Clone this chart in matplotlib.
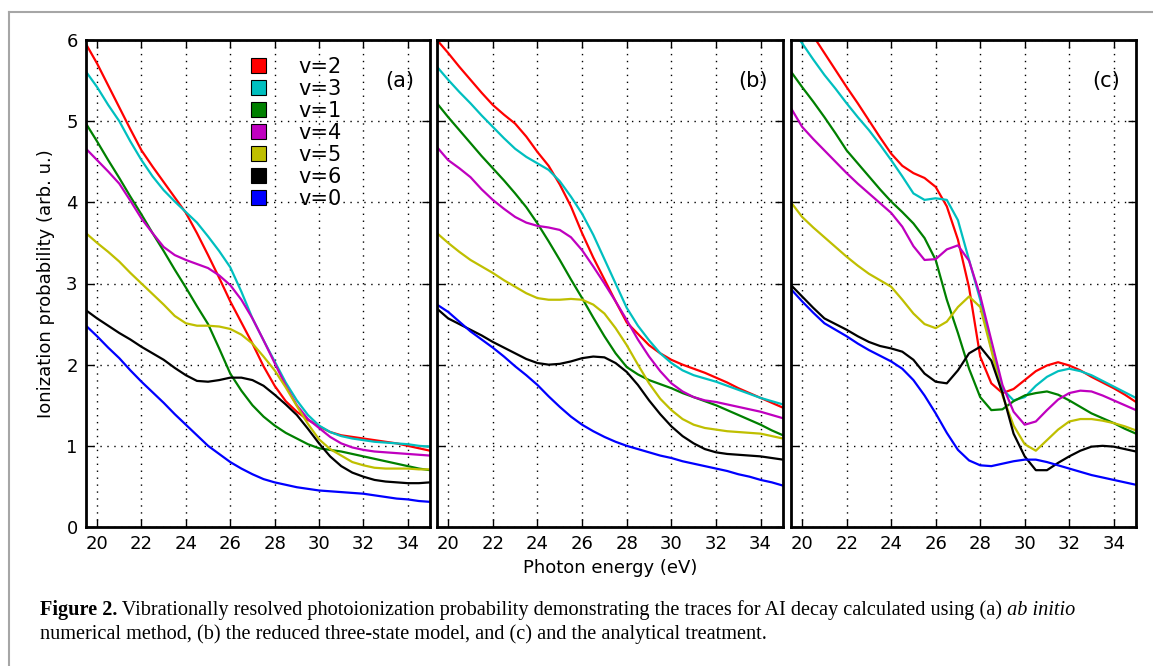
import numpy as np
import matplotlib
matplotlib.use('Agg')
import matplotlib.pyplot as plt
from matplotlib.lines import Line2D
from matplotlib.patches import Patch

# photon energy grid (eV)
E = [19.5, 20, 20.5, 21, 21.5, 22, 22.5, 23, 23.5, 24, 24.5, 25, 25.5, 26, 26.5, 27,
     27.5, 28, 28.5, 29, 29.5, 30, 30.5, 31, 31.5, 32, 32.5, 33, 33.5, 34, 34.5, 35]

# (a) ab initio numerical
a_v2 = [5.95, 5.71, 5.44, 5.17, 4.90, 4.64, 4.44, 4.25, 4.06, 3.87, 3.62, 3.35, 3.07, 2.78, 2.52, 2.26,
        1.98, 1.74, 1.55, 1.42, 1.32, 1.24, 1.17, 1.13, 1.11, 1.09, 1.07, 1.05, 1.03, 1.00, 0.97, 0.94]
a_v3 = [5.61, 5.42, 5.20, 5.00, 4.75, 4.52, 4.32, 4.15, 4.01, 3.88, 3.75, 3.58, 3.40, 3.20, 2.90, 2.57,
        2.30, 2.04, 1.78, 1.56, 1.38, 1.25, 1.17, 1.12, 1.09, 1.07, 1.05, 1.04, 1.03, 1.02, 1.00, 0.99]
a_v1 = [4.97, 4.75, 4.52, 4.30, 4.07, 3.85, 3.62, 3.40, 3.17, 2.95, 2.72, 2.50, 2.20, 1.89, 1.68, 1.50,
        1.36, 1.25, 1.16, 1.09, 1.02, 0.97, 0.95, 0.93, 0.90, 0.87, 0.84, 0.81, 0.78, 0.75, 0.72, 0.70]
a_v4 = [4.66, 4.52, 4.38, 4.23, 4.02, 3.80, 3.62, 3.45, 3.35, 3.29, 3.24, 3.19, 3.10, 2.98, 2.80, 2.57,
        2.30, 2.02, 1.74, 1.50, 1.33, 1.22, 1.11, 1.03, 0.98, 0.95, 0.93, 0.92, 0.91, 0.90, 0.89, 0.88]
a_v5 = [3.62, 3.50, 3.39, 3.27, 3.13, 3.00, 2.87, 2.74, 2.60, 2.51, 2.48, 2.48, 2.47, 2.44, 2.37, 2.26,
        2.10, 1.93, 1.72, 1.49, 1.27, 1.08, 0.96, 0.88, 0.80, 0.76, 0.73, 0.72, 0.72, 0.72, 0.71, 0.71]
a_v6 = [2.67, 2.57, 2.48, 2.39, 2.31, 2.22, 2.14, 2.06, 1.96, 1.87, 1.80, 1.79, 1.81, 1.84, 1.84, 1.81,
        1.74, 1.63, 1.51, 1.38, 1.21, 1.03, 0.87, 0.75, 0.67, 0.62, 0.58, 0.56, 0.55, 0.54, 0.54, 0.55]
a_v0 = [2.48, 2.35, 2.21, 2.08, 1.93, 1.79, 1.66, 1.53, 1.39, 1.26, 1.13, 1.00, 0.90, 0.80, 0.72, 0.65,
        0.59, 0.55, 0.52, 0.49, 0.47, 0.45, 0.44, 0.43, 0.42, 0.41, 0.39, 0.37, 0.35, 0.34, 0.32, 0.31]

# (b) reduced three-state model
b_v2 = [6.00, 5.84, 5.67, 5.51, 5.35, 5.20, 5.08, 4.97, 4.81, 4.62, 4.45, 4.22, 3.95, 3.62, 3.32, 3.05,
        2.78, 2.52, 2.38, 2.24, 2.14, 2.06, 2.00, 1.95, 1.90, 1.84, 1.78, 1.71, 1.65, 1.59, 1.53, 1.47]
b_v3 = [5.67, 5.51, 5.36, 5.22, 5.07, 4.93, 4.79, 4.66, 4.56, 4.48, 4.40, 4.26, 4.07, 3.86, 3.60, 3.30,
        3.00, 2.70, 2.48, 2.30, 2.14, 2.02, 1.93, 1.87, 1.83, 1.79, 1.74, 1.69, 1.64, 1.59, 1.55, 1.51]
b_v1 = [5.22, 5.05, 4.89, 4.73, 4.57, 4.42, 4.27, 4.11, 3.94, 3.74, 3.52, 3.29, 3.05, 2.82, 2.58, 2.35,
        2.14, 1.97, 1.88, 1.81, 1.76, 1.71, 1.65, 1.60, 1.55, 1.50, 1.44, 1.38, 1.32, 1.26, 1.19, 1.13]
b_v4 = [4.68, 4.52, 4.42, 4.31, 4.16, 4.03, 3.92, 3.82, 3.75, 3.71, 3.69, 3.66, 3.57, 3.41, 3.21, 3.00,
        2.78, 2.55, 2.31, 2.10, 1.92, 1.77, 1.67, 1.60, 1.56, 1.54, 1.51, 1.48, 1.45, 1.42, 1.38, 1.34]
b_v5 = [3.62, 3.50, 3.39, 3.29, 3.21, 3.13, 3.04, 2.96, 2.88, 2.82, 2.80, 2.80, 2.81, 2.80, 2.74, 2.63,
        2.45, 2.24, 2.00, 1.77, 1.58, 1.44, 1.33, 1.26, 1.22, 1.20, 1.18, 1.17, 1.16, 1.15, 1.12, 1.09]
b_v6 = [2.69, 2.57, 2.50, 2.43, 2.36, 2.28, 2.21, 2.14, 2.07, 2.02, 2.00, 2.01, 2.04, 2.08, 2.10, 2.09,
        2.02, 1.91, 1.75, 1.56, 1.39, 1.24, 1.12, 1.03, 0.96, 0.92, 0.90, 0.89, 0.88, 0.87, 0.85, 0.83]
b_v0 = [2.74, 2.65, 2.53, 2.41, 2.31, 2.21, 2.10, 1.98, 1.87, 1.75, 1.61, 1.48, 1.36, 1.26, 1.18, 1.11,
        1.05, 1.00, 0.96, 0.92, 0.88, 0.85, 0.81, 0.78, 0.75, 0.72, 0.69, 0.65, 0.62, 0.58, 0.55, 0.51]

# (c) analytical treatment
nan = np.nan
c_v2 = [nan, nan, 6.05, 5.84, 5.63, 5.42, 5.22, 5.01, 4.80, 4.60, 4.45, 4.36, 4.30, 4.19, 3.95, 3.54,
        2.95, 2.10, 1.77, 1.65, 1.70, 1.81, 1.92, 1.99, 2.03, 1.99, 1.93, 1.85, 1.78, 1.71, 1.63, 1.54]
c_v3 = [6.15, 5.96, 5.76, 5.57, 5.40, 5.22, 5.05, 4.89, 4.71, 4.52, 4.32, 4.11, 4.03, 4.05, 4.03, 3.78,
        3.29, 2.80, 2.20, 1.70, 1.56, 1.60, 1.74, 1.85, 1.92, 1.95, 1.92, 1.87, 1.80, 1.73, 1.66, 1.59]
c_v1 = [5.61, 5.42, 5.24, 5.05, 4.85, 4.64, 4.48, 4.32, 4.16, 4.01, 3.88, 3.74, 3.56, 3.29, 2.80, 2.39,
        1.95, 1.60, 1.44, 1.45, 1.55, 1.62, 1.65, 1.67, 1.63, 1.56, 1.48, 1.40, 1.34, 1.28, 1.21, 1.15]
c_v4 = [5.16, 4.93, 4.78, 4.64, 4.50, 4.36, 4.23, 4.11, 3.99, 3.87, 3.70, 3.46, 3.29, 3.30, 3.42, 3.47,
        3.28, 2.85, 2.30, 1.75, 1.42, 1.26, 1.30, 1.44, 1.57, 1.65, 1.68, 1.67, 1.62, 1.56, 1.50, 1.44]
c_v5 = [4.00, 3.82, 3.69, 3.57, 3.45, 3.33, 3.22, 3.12, 3.04, 2.96, 2.80, 2.63, 2.50, 2.45, 2.53, 2.71,
        2.84, 2.71, 2.18, 1.62, 1.25, 1.02, 0.94, 1.07, 1.20, 1.30, 1.33, 1.33, 1.31, 1.28, 1.24, 1.19]
c_v6 = [2.98, 2.84, 2.70, 2.57, 2.50, 2.43, 2.35, 2.28, 2.23, 2.20, 2.16, 2.06, 1.89, 1.79, 1.77, 1.93,
        2.14, 2.22, 2.05, 1.65, 1.15, 0.87, 0.70, 0.70, 0.79, 0.87, 0.94, 0.99, 1.00, 0.99, 0.96, 0.93]
c_v0 = [2.93, 2.78, 2.64, 2.51, 2.43, 2.35, 2.26, 2.18, 2.11, 2.04, 1.95, 1.81, 1.62, 1.40, 1.16, 0.95,
        0.82, 0.76, 0.75, 0.78, 0.81, 0.83, 0.83, 0.80, 0.76, 0.72, 0.68, 0.64, 0.61, 0.58, 0.55, 0.52]

labels = ['v=2', 'v=3', 'v=1', 'v=4', 'v=5', 'v=6', 'v=0']
colors = ['#ff0000', '#00bfbf', '#008000', '#bf00bf', '#bfbf00', '#000000', '#0000ff']

panels = [
    ('(a)', [a_v2, a_v3, a_v1, a_v4, a_v5, a_v6, a_v0]),
    ('(b)', [b_v2, b_v3, b_v1, b_v4, b_v5, b_v6, b_v0]),
    ('(c)', [c_v2, c_v3, c_v1, c_v4, c_v5, c_v6, c_v0]),
]

W, H = 1153, 666
fig = plt.figure(figsize=(W / 100, H / 100), dpi=100)
fig.patch.set_facecolor('white')

# axes boxes in pixels: (left, right)
boxes = [(86, 430), (437, 783), (791, 1136)]
top, bottom = 40, 527

axes = []
for i, ((name, curves), (x0, x1)) in enumerate(zip(panels, boxes)):
    ax = fig.add_axes([x0 / W, (H - bottom) / H, (x1 - x0) / W, (bottom - top) / H])
    for y, c in zip(curves, colors):
        ax.plot(E, y, color=c, lw=1.6, solid_joinstyle='round')
    ax.set_xlim(19.5, 35)
    ax.set_ylim(0, 6)
    ax.set_xticks(range(20, 35, 2))
    ax.set_yticks(range(0, 7))
    ax.grid(True, color='black', linestyle=(0, (1, 4)), lw=1.0)
    ax.tick_params(direction='in', top=True, right=True, length=6, width=1,
                   labelsize=13, pad=6, colors='black')
    if i > 0:
        ax.tick_params(labelleft=False)
    for s in ax.spines.values():
        s.set_linewidth(2)
    ax.text(0.955, 0.915, name, transform=ax.transAxes, ha='right', va='center', fontsize=15)
    axes.append(ax)

axes[0].set_ylabel('Ionization probability (arb. u.)', fontsize=13, labelpad=8)
axes[1].set_xlabel('Photon energy (eV)', fontsize=13, labelpad=4)

handles = [Patch(facecolor=c, edgecolor='black', lw=0.8) for c in colors]
axes[0].legend(handles, labels, loc='upper left', bbox_to_anchor=(0.48, 0.966),
               frameon=False, fontsize=15, handlelength=0.7, handleheight=0.7,
               handletextpad=1.55, labelspacing=0.1, borderaxespad=0, borderpad=0)

# outer frame
fig.add_artist(Line2D([9 / W, 9 / W], [0, 1 - 12 / H], transform=fig.transFigure,
                      color='#a6a6a6', lw=1.5))
fig.add_artist(Line2D([9 / W, 1], [1 - 12 / H, 1 - 12 / H], transform=fig.transFigure,
                      color='#a6a6a6', lw=1.5))

# caption, written as runs of differing style
serif = 'Liberation Serif'
cap_size = 14.6
fig.canvas.draw()
renderer = fig.canvas.get_renderer()


def put_runs(x, y, runs):
    for text, kw in runs:
        t = fig.text(x, y, text, fontsize=cap_size, family=serif, va='baseline', **kw)
        x += t.get_window_extent(renderer).width / W


put_runs(40 / W, 1 - 615 / H, [
    ('Figure 2.', dict(weight='bold')),
    (' Vibrationally resolved photoionization probability demonstrating the traces for AI decay '
     'calculated using (a)', {}),
    (' ab initio', dict(style='italic')),
])
put_runs(40 / W, 1 - 639 / H, [
    ('numerical method, (b) the reduced three-state model, and (c) and the analytical treatment.', {}),
])

fig.savefig('out.png', dpi=100)
